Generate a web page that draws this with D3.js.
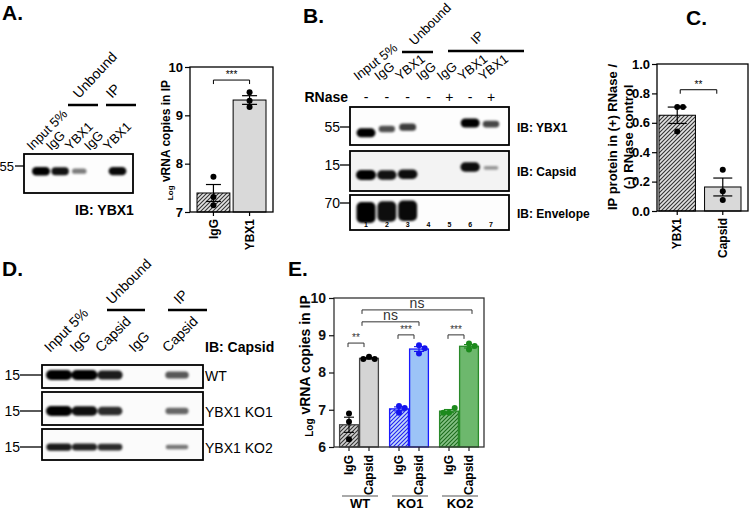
<!DOCTYPE html>
<html><head><meta charset="utf-8">
<script src="https://cdn.jsdelivr.net/npm/d3@7"></script>
<style>
html,body{margin:0;padding:0;background:#fff;}
svg{display:block;}
</style></head><body>
<svg id="fig" width="750" height="512"></svg>
<script>
// ================= DATA =================
// Panel A – western blot
const blotA_lanes = ["Input 5%","IgG","YBX1","IgG","YBX1"];
const blotA_groups = ["Unbound","IP"];
const blotA_marker = "55";
const blotA_ybx1 = [1.0, 0.9, 0.3, 0, 0.95];
// Panel A – bar chart (Log vRNA copies in IP)
const chartA_categories = ["IgG","YBX1"];
const chartA_points = [[7.73,7.31,7.14],[9.48,9.30,9.17]];
const chartA_ticks = [7,8,9,10];
const chartA_sig = "***";
// Panel B – western blot
const blotB_lanes = ["Input 5%","IgG","YBX1","IgG","IgG","YBX1","YBX1"];
const blotB_groups = ["Unbound","IP"];
const blotB_rnase = ["-","-","-","-","+","-","+"];
const blotB_numbers = ["1","2","3","4","5","6","7"];
const blotB_rows = ["IB: YBX1","IB: Capsid","IB: Envelope"];
const blotB_markers = ["55","15","70"];
const blotB_ybx1 = [1.0,0.55,0.65,0,0,1.0,0.6];
const blotB_ybx1_mobility = [0.68,0.58,0.53,0.5,0.5,0.42,0.45];
const blotB_capsid = [1.0,0.9,0.92,0,0,0.92,0.12];
const blotB_capsid_mobility = [0.6,0.6,0.58,0.5,0.5,0.4,0.42];
const blotB_envelope = [1.0,0.92,0.95,0,0,0,0];
const blotB_envelope_mobility = [0.5,0.47,0.45,0.5,0.5,0.5,0.5];
// Panel C – bar chart
const chartC_categories = ["YBX1","Capsid"];
const chartC_points = [[0.707,0.707,0.54],[0.28,0.135,0.075]];
const chartC_ticks = [0,0.2,0.4,0.6,0.8,1.0];
const chartC_sig = "**";
// Panel D – western blot
const blotD_lanes = ["Input 5%","IgG","Capsid","IgG","Capsid"];
const blotD_groups = ["Unbound","IP"];
const blotD_rows = ["WT","YBX1 KO1","YBX1 KO2"];
const blotD_marker = "15";
const blotD_wt = [1.0,1.0,0.85,0,0.5];
const blotD_ko1 = [1.0,0.92,0.75,0,0.42];
const blotD_ko2 = [0.85,0.8,0.75,0,0.32];
// Panel E – bar chart
const chartE_groups = ["WT","KO1","KO2"];
const chartE_conditions = ["IgG","Capsid"];
const chartE_IgG = [[6.90,6.68,6.21],[7.10,6.92,7.05],[6.92,7.05,6.92]];
const chartE_Capsid = [[8.42,8.36,8.36],[8.73,8.51,8.65],[8.78,8.62,8.71]];
const chartE_ticks = [6,7,8,9,10];
const chartE_withinSig = ["**","***","***"];
const chartE_betweenSig = ["ns","ns"];

// ================= SETUP =================
const F = '"Liberation Sans", Arial, Helvetica, sans-serif';
const svg = d3.select("#fig");
const defs = svg.append("defs");
defs.append("filter").attr("id","blur").attr("x","-50%").attr("y","-100%").attr("width","200%").attr("height","300%")
  .append("feGaussianBlur").attr("stdDeviation",1.1);
function hatch(id,bg,line){
  const p = defs.append("pattern").attr("id",id).attr("patternUnits","userSpaceOnUse").attr("width",4).attr("height",4);
  p.append("rect").attr("width",4).attr("height",4).attr("fill",bg);
  p.append("path").attr("d","M-1,1 l2,-2 M0,4 l4,-4 M3,5 l2,-2").attr("stroke",line).attr("stroke-width",1.1);
}
hatch("hGray","#e2e2e2","#333");
hatch("hGrayE","#d0d0d0","#333");
hatch("hBlue","#c4dafb","#2020f0");
hatch("hGreen","#86c286","#1b6a1b");

function txt(g,s,x,y,o={}){
  const t = g.append("text").text(s)
    .style("font-family",F).style("font-size",(o.size||13)+"px")
    .style("font-weight",o.bold?"bold":"normal")
    .attr("text-anchor",o.anchor||"start").attr("fill",o.fill||"#000");
  if(o.rotate!==undefined) t.attr("transform",`translate(${x},${y}) rotate(${o.rotate})`);
  else t.attr("x",x).attr("y",y);
  return t;
}
function line(g,x1,y1,x2,y2,w=1,c="#000"){
  g.append("line").attr("x1",x1).attr("y1",y1).attr("x2",x2).attr("y2",y2).attr("stroke",c).attr("stroke-width",w);
}
function bracket(g,x1,x2,y,label,size,color="#000"){
  g.append("path").attr("d",`M${x1},${y+4}V${y}H${x2}V${y+4}`).attr("fill","none").attr("stroke",color).attr("stroke-width",1);
  txt(g,label,(x1+x2)/2,y-2,{size:size,anchor:"middle",fill:color});
}
function swarm(ys,r){
  const placed=[];
  return ys.map(y=>{
    const c=[0]; for(let k=1;k<5;k++){c.push(k*2*r*0.95,-k*2*r*0.95);}
    for(const dx of c){
      if(placed.every(p=>Math.hypot(p.dx-dx,p.y-y)>=2*r*0.95)){placed.push({dx,y});return dx;}
    }
    return 0;
  });
}
function blot(g,c){
  g.append("rect").attr("x",c.x0).attr("y",c.y0).attr("width",c.x1-c.x0).attr("height",c.y1-c.y0)
    .attr("fill",c.bg||"#fbfbfb").attr("stroke","#000").attr("stroke-width",1.8);
  const yM = d3.scaleLinear().domain([0,1]).range([c.y0,c.y1]);
  const hS = d3.scaleLinear().domain([0,1]).range(c.h);
  const wS = d3.scaleLinear().domain([0,1]).range(c.w);
  const oS = d3.scaleLinear().domain([0,1]).range([0.3,1]);
  const data = c.amounts.map((a,i)=>({a,i,m:c.mobility?c.mobility[i]:c.mob})).filter(d=>d.a>0);
  g.append("g").attr("filter","url(#blur)").selectAll("rect").data(data).join("rect")
    .attr("x",d=>c.laneX(d.i)-wS(d.a)/2).attr("width",d=>wS(d.a))
    .attr("y",d=>yM(d.m)-hS(d.a)/2).attr("height",d=>hS(d.a))
    .attr("rx",d=>Math.min(hS(d.a)/2,5)).attr("fill","#050505").attr("opacity",d=>oS(d.a));
}
function styleAxis(ax,size,bold=true,color="#000"){
  ax.selectAll("text").style("font-family",F).style("font-size",size+"px").style("font-weight",bold?"bold":"normal").attr("fill",color);
  ax.selectAll("line").attr("stroke",color).attr("stroke-width",1.2);
  ax.select(".domain").remove();
}
function drawBarChart(g,c){
  const [fx0,fy0,fx1,fy1]=c.frame;
  const stats = c.cats.map((cat,i)=>({cat,i,pts:c.pts[i],m:d3.mean(c.pts[i]),s:d3.deviation(c.pts[i])/Math.sqrt(c.pts[i].length)}));
  const base = c.y(c.y.domain()[0]);
  g.selectAll("rect.bar").data(stats).join("rect").attr("class","bar")
    .attr("x",d=>c.x(d.cat)).attr("y",d=>c.y(d.m)).attr("width",c.x.bandwidth()).attr("height",d=>base-c.y(d.m))
    .attr("fill",d=>c.fills[d.i]).attr("stroke","#000").attr("stroke-width",1);
  stats.forEach(d=>{
    const cx=c.x(d.cat)+c.x.bandwidth()/2;
    line(g,cx,c.y(d.m-d.s),cx,c.y(d.m+d.s),1.2);
    line(g,cx-c.capW/2,c.y(d.m+d.s),cx+c.capW/2,c.y(d.m+d.s),1.2);
    line(g,cx-c.capW/2,c.y(d.m-d.s),cx+c.capW/2,c.y(d.m-d.s),1.2);
    const ys=d.pts.map(v=>c.y(v)); const dx=swarm(ys,3);
    g.selectAll(null).data(d.pts).join("circle").attr("cx",(v,j)=>cx+dx[j]).attr("cy",v=>c.y(v)).attr("r",3).attr("fill","#000");
  });
  g.append("rect").attr("x",fx0).attr("y",fy0).attr("width",fx1-fx0).attr("height",fy1-fy0).attr("fill","none").attr("stroke","#000").attr("stroke-width",1.3);
  const ay = g.append("g").attr("transform",`translate(${fx0},0)`).call(d3.axisLeft(c.y).tickValues(c.ticks).tickFormat(c.fmt).tickSize(5).tickPadding(2));
  styleAxis(ay,c.tickSize);
  const ax = g.append("g").attr("transform",`translate(0,${fy1})`).call(d3.axisBottom(c.x).tickSize(4));
  styleAxis(ax,c.xSize);
  ax.selectAll("text").attr("transform","rotate(-90)").attr("x",-7).attr("y",0).attr("dy","0.35em").attr("text-anchor","end");
  const c0=c.x(c.cats[0])+c.x.bandwidth()/2, c1=c.x(c.cats[1])+c.x.bandwidth()/2;
  bracket(g,c0+c.sigInset[0],c1-c.sigInset[1],c.y(c.sigLevel),c.sig,10);
}

// ================= PANEL LETTERS =================
[["A.",2,20],["B.",303,23],["C.",686,25],["D.",2,276],["E.",288,276]].forEach(([s,x,y])=>txt(svg,s,x,y,{size:21,bold:true}));

// ================= PANEL A =================
const gAb = svg.append("g");
const laneA = d3.scalePoint().domain(d3.range(blotA_lanes.length)).range([41,117.5]);
blot(gAb,{x0:24,x1:133,y0:154,y1:193,laneX:laneA,amounts:blotA_ybx1,mob:0.44,h:[4,8.5],w:[13,18],bg:"#fdfdfd"});
txt(gAb,blotA_marker,14,171,{size:13,anchor:"end"}); line(gAb,15,166,24,166,1.3);
txt(gAb,"IB: YBX1",75,215,{size:14,bold:true});
blotA_lanes.forEach((s,i)=>txt(gAb,s,laneA(i)-9,151,{size:13,rotate:-45}));
[[68,98],[106,136]].forEach(([a,b],i)=>{line(gAb,a,105,b,105,2.5);txt(gAb,blotA_groups[i],(a+b)/2-(i?9:4),99,{size:14,rotate:-47});});

const gA = svg.append("g");
const yA = d3.scaleLinear().domain([7,10]).range([212,67]);
const xA = d3.scaleBand().domain(chartA_categories).range([197,266]).paddingInner(0.09);
drawBarChart(gA,{x:xA,y:yA,cats:chartA_categories,pts:chartA_points,ticks:chartA_ticks,fmt:d3.format("d"),
  frame:[190,67,273,212],fills:["url(#hGray)","#d9d9d9"],capW:15,tickSize:13,xSize:12,sig:chartA_sig,sigLevel:9.73,sigInset:[0,0]});
const tAy = gA.append("text").attr("transform","translate(170,140) rotate(-90)").attr("text-anchor","middle")
  .style("font-family",F).style("font-weight","bold").style("font-size","12px");
tAy.append("tspan").text("Log").style("font-size","8px").attr("dy",3);
tAy.append("tspan").text(" vRNA copies in IP").attr("dy",-3);

// ================= PANEL B =================
const gB = svg.append("g");
const laneB = d3.scalePoint().domain(d3.range(blotB_lanes.length)).range([366,491]);
const rowsB = [[107,145,blotB_ybx1,blotB_ybx1_mobility,[3.5,9],[13,19],"#fdfdfd"],
               [151,191,blotB_capsid,blotB_capsid_mobility,[3,10],[14,20],"#f3f3f3"],
               [195,230,blotB_envelope,blotB_envelope_mobility,[14,21],[16,19],"#fdfdfd"]];
const markerY = [127,165,203], ibY=[132,176,218];
rowsB.forEach((r,k)=>{
  blot(gB,{x0:350,x1:509,y0:r[0],y1:r[1],laneX:laneB,amounts:r[2],mobility:r[3],h:r[4],w:r[5],bg:r[6]});
  txt(gB,blotB_markers[k],340,markerY[k]+5,{size:14,anchor:"end"}); line(gB,340,markerY[k],350,markerY[k],1.3);
  txt(gB,blotB_rows[k],517,ibY[k],{size:12,bold:true});
});
blotB_numbers.forEach((s,i)=>txt(gB,s,laneB(i),227,{size:7,bold:true,anchor:"middle"}));
txt(gB,"RNase",348,102,{size:14,bold:true,anchor:"end"});
blotB_rnase.forEach((s,i)=>txt(gB,s,laneB(i),102,{size:14,anchor:"middle"}));
blotB_lanes.forEach((s,i)=>txt(gB,s,laneB(i)-8,81,{size:13,rotate:-38}));
[[402,433,52],[448,524,51]].forEach(([a,b,y],i)=>{line(gB,a,y,b,y,2.5);txt(gB,blotB_groups[i],(a+b)/2-(i?10:3),y-6,{size:13,rotate:-45});});

// ================= PANEL C =================
const gC = svg.append("g");
const yC = d3.scaleLinear().domain([0,1]).range([211,64]);
const xC = d3.scaleBand().domain(chartC_categories).range([659,741]).paddingInner(0.2);
drawBarChart(gC,{x:xC,y:yC,cats:chartC_categories,pts:chartC_points,ticks:chartC_ticks,fmt:d3.format(".1f"),
  frame:[657,64,748,211],fills:["url(#hGray)","#d9d9d9"],capW:19,tickSize:13,xSize:12,sig:chartC_sig,sigLevel:0.825,sigInset:[3,6]});
txt(gC,"IP protein in (+) RNase /",617,137,{size:13,bold:true,anchor:"middle",rotate:-90});
txt(gC,"(-) RNase control",633,137,{size:13,bold:true,anchor:"middle",rotate:-90});

// ================= PANEL D =================
const gD = svg.append("g");
const laneD = d3.scaleLinear().domain([0,2,4]).range([59,110,177]);
const rowsD = [[365,388,blotD_wt,[4,10],[21,26]],[392,425,blotD_ko1,[4,10],[21,26]],[429,460,blotD_ko2,[3,8],[21,26]]];
const bandDY=[375,411,447];
rowsD.forEach((r,k)=>{
  blot(gD,{x0:42,x1:203,y0:r[0],y1:r[1],laneX:laneD,amounts:r[2],mob:(bandDY[k]-r[0])/(r[1]-r[0]),h:r[3],w:r[4],bg:"#fbfbfb"});
  txt(gD,blotD_marker,20,bandDY[k]+5,{size:14,anchor:"end"}); line(gD,20,bandDY[k],42,bandDY[k],1.3);
  txt(gD,blotD_rows[k],205,bandDY[k]+6,{size:14});
});
txt(gD,"IB: Capsid",205,352,{size:14,bold:true});
blotD_lanes.forEach((s,i)=>txt(gD,s,laneD(i)-9,353,{size:14,rotate:-45}));
[[107,145],[168,207]].forEach(([a,b],i)=>{line(gD,a,310,b,310,2.5);txt(gD,blotD_groups[i],(a+b)/2-(i?8:14),305,{size:14,rotate:-45});});

// ================= PANEL E =================
const gE = svg.append("g");
const yE = d3.scaleLinear().domain([6,10]).range([447,298]);
const xG = d3.scaleBand().domain(chartE_groups).range([334,484]).paddingInner(0.2).paddingOuter(0.1);
const xIn = d3.scaleBand().domain(chartE_conditions).range([0,xG.bandwidth()]);
const styleE = {
  WT:{IgG:"url(#hGrayE)",Capsid:"#d4d4d4",stroke:"#444",pt:"#000"},
  KO1:{IgG:"url(#hBlue)",Capsid:"#9cc3f7",stroke:"#1a1aff",pt:"#1414ee"},
  KO2:{IgG:"url(#hGreen)",Capsid:"#6db86d",stroke:"#2a8a2a",pt:"#1d8a1d"}
};
const statsE=[];
chartE_groups.forEach((grp,gi)=>{
  chartE_conditions.forEach(cond=>{
    const pts = cond==="IgG"?chartE_IgG[gi]:chartE_Capsid[gi];
    statsE.push({grp,cond,pts,m:d3.mean(pts),s:d3.deviation(pts)/Math.sqrt(pts.length),x:xG(grp)+xIn(cond),cx:xG(grp)+xIn(cond)+xIn.bandwidth()/2});
  });
});
gE.selectAll("rect.bar").data(statsE).join("rect").attr("class","bar")
  .attr("x",d=>d.x+0.6).attr("y",d=>yE(d.m)).attr("width",xIn.bandwidth()-1.2).attr("height",d=>yE(6)-yE(d.m))
  .attr("fill",d=>styleE[d.grp][d.cond]).attr("stroke",d=>styleE[d.grp].stroke).attr("stroke-width",1.3);
statsE.forEach(d=>{
  const col=styleE[d.grp].pt;
  line(gE,d.cx,yE(d.m-d.s),d.cx,yE(d.m+d.s),1.1,col);
  line(gE,d.cx-5,yE(d.m+d.s),d.cx+5,yE(d.m+d.s),1.1,col);
  line(gE,d.cx-5,yE(d.m-d.s),d.cx+5,yE(d.m-d.s),1.1,col);
  const dx=swarm(d.pts.map(v=>yE(v)),3);
  gE.selectAll(null).data(d.pts).join("circle").attr("cx",(v,j)=>d.cx+dx[j]).attr("cy",v=>yE(v)).attr("r",3).attr("fill",col);
});
gE.append("rect").attr("x",334).attr("y",298).attr("width",150).attr("height",149).attr("fill","none").attr("stroke","#333").attr("stroke-width",1.3);
const aEy = gE.append("g").attr("transform","translate(334,0)").call(d3.axisLeft(yE).tickValues(chartE_ticks).tickFormat(d3.format("d")).tickSize(5).tickPadding(3));
styleAxis(aEy,14,true,"#111");
const tickE = gE.append("g").attr("transform","translate(0,447)");
statsE.forEach(d=>{
  line(tickE,d.cx,0,d.cx,4,1.2,"#222");
  txt(tickE,d.cond,d.cx+4,8,{size:12,bold:true,anchor:"end",rotate:-90});
});
chartE_groups.forEach(grp=>{
  const a=xG(grp)+3,b=xG(grp)+xG.bandwidth()-1;
  line(gE,a,496,b,496,1.1,"#555");
  txt(gE,grp,(a+b)/2,512-4,{size:13,bold:true,anchor:"middle"});
});
const cE = (g,c)=>statsE.find(d=>d.grp===g&&d.cond===c).cx;
chartE_groups.forEach((grp,gi)=>bracket(gE,cE(grp,"IgG")-1,cE(grp,"Capsid")-5,yE(gi===0?8.79:9.01),chartE_withinSig[gi],10,"#333"));
bracket(gE,cE("WT","Capsid")-7,cE("KO1","Capsid"),yE(9.36),chartE_betweenSig[0],14,"#333");
bracket(gE,cE("WT","Capsid")-7,cE("KO2","Capsid")+3,yE(9.68),chartE_betweenSig[1],14,"#333");
const tEy = gE.append("text").attr("transform","translate(310,366) rotate(-90)").attr("text-anchor","middle")
  .style("font-family",F).style("font-weight","bold").style("font-size","14px");
tEy.append("tspan").text("Log").style("font-size","10px").attr("dy",3);
tEy.append("tspan").text(" vRNA copies in IP").attr("dy",-3);
</script>
</body></html>
